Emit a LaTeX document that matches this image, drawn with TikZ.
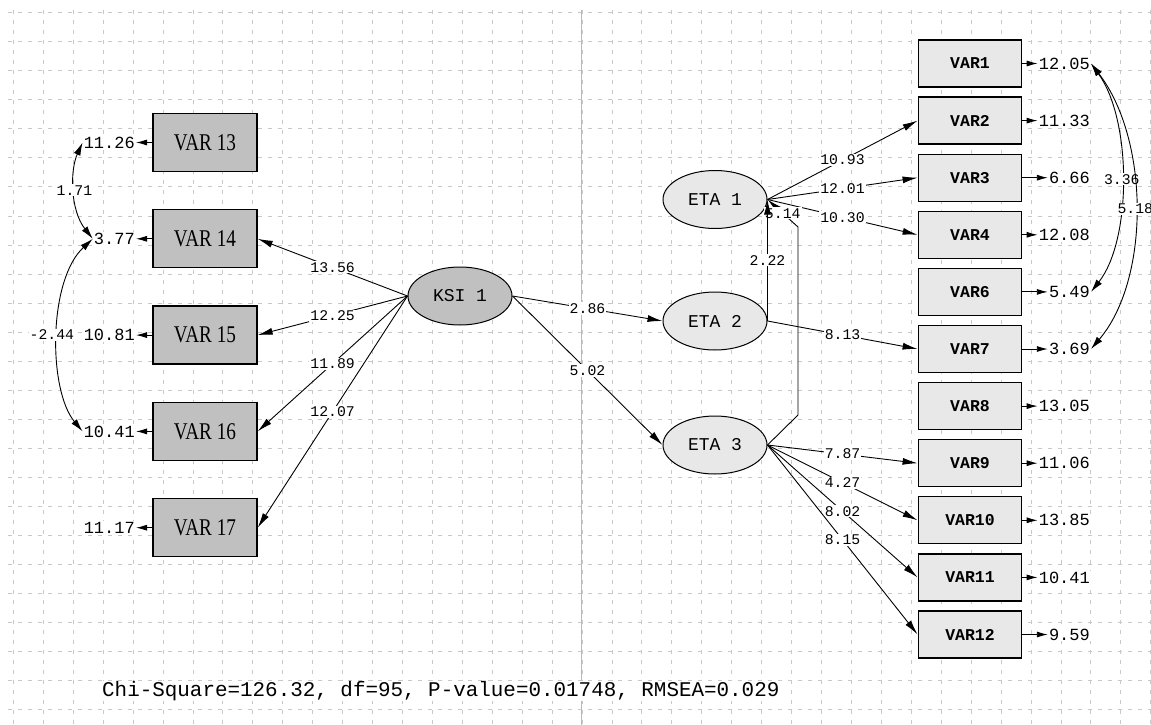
\documentclass[tikz,border=0pt]{standalone}
\usepackage{fontspec}
\newfontfamily\monof{Liberation Mono}
\newfontfamily\seriff{Liberation Serif}
\usetikzlibrary{shapes.geometric,arrows.meta,calc}
\definecolor{gridc}{RGB}{200,200,200}
\definecolor{axisc}{RGB}{185,185,185}
\definecolor{darkfill}{RGB}{192,192,192}
\definecolor{lightfill}{RGB}{232,232,232}
\newcommand{\lvtext}[1]{\scalebox{0.8}[1]{#1}}
\begin{document}
\begin{tikzpicture}[x=1pt,y=-1pt,
  gridline/.style={draw=gridc,line width=0.9pt,dash pattern=on 4pt off 6pt},
  axisline/.style={draw=axisc,line width=1.5pt},
  lvar/.style={draw,fill=darkfill,line width=1.3pt,minimum width=104pt,minimum height=58pt,inner sep=0pt,font=\seriff\fontsize{24}{26}\selectfont},
  rvar/.style={draw,fill=lightfill,line width=1.3pt,minimum width=103.5pt,minimum height=47pt,inner sep=0pt,font=\monof\bfseries\fontsize{16.5}{18}\selectfont},
  latent/.style={ellipse,draw,line width=1pt,minimum width=104pt,minimum height=58pt,inner sep=0pt,font=\monof\fontsize{18}{20}\selectfont},
  errlbl/.style={fill=white,inner sep=1pt,font=\monof\fontsize{17}{18}\selectfont},
  plbl/.style={fill=white,inner sep=1pt,font=\monof\fontsize{14.8}{16}\selectfont},
  pathline/.style={line width=0.9pt,-{Latex[length=15pt,width=7pt]}},
  errarr/.style={line width=0.9pt,-{Latex[length=11pt,width=6pt]}},
  cov/.style={line width=0.9pt,{Latex[length=13pt,width=7pt]}-{Latex[length=13pt,width=7pt]}}
]
\useasboundingbox (0,0) rectangle (1151,725);
\fill[white] (0,0) rectangle (1151,725);
% grid
\foreach \k in {0,...,38} \draw[gridline] ({13.4+29.93*\k},10) -- ({13.4+29.93*\k},725);
\foreach \k in {0,...,24} \draw[gridline] (8,{12.6+29.05*\k}) -- (1151,{12.6+29.05*\k});
\draw[axisline] (581.5,10) -- (581.5,725);

% left observed variables
\node[lvar] (v13) at (205,142.5) {\lvtext{VAR 13}};
\node[lvar] (v14) at (205,238.8) {\lvtext{VAR 14}};
\node[lvar] (v15) at (205,335.1) {\lvtext{VAR 15}};
\node[lvar] (v16) at (205,431.4) {\lvtext{VAR 16}};
\node[lvar] (v17) at (205,527.7) {\lvtext{VAR 17}};

% latent variables
\node[latent,fill=darkfill] (ksi) at (460,296) {KSI 1};
\node[latent,fill=lightfill] (eta1) at (715,199.5) {ETA 1};
\node[latent,fill=lightfill] (eta2) at (715,321) {ETA 2};
\node[latent,fill=lightfill] (eta3) at (715,445) {ETA 3};

% right observed variables
\node[rvar] (v1)  at (970,63.5)  {VAR1};
\node[rvar] (v2)  at (970,120.6) {VAR2};
\node[rvar] (v3)  at (970,177.7) {VAR3};
\node[rvar] (v4)  at (970,234.8) {VAR4};
\node[rvar] (v6)  at (970,291.9) {VAR6};
\node[rvar] (v7)  at (970,349.0) {VAR7};
\node[rvar] (v8)  at (970,406.1) {VAR8};
\node[rvar] (v9)  at (970,463.2) {VAR9};
\node[rvar] (v10) at (970,520.3) {VAR10};
\node[rvar] (v11) at (970,577.4) {VAR11};
\node[rvar] (v12) at (970,634.5) {VAR12};

% structural paths
\draw[pathline] (ksi.west) -- node[plbl]{13.56} (v14.east);
\draw[pathline] (ksi.west) -- node[plbl]{12.25} (v15.east);
\draw[pathline] (ksi.west) -- node[plbl]{11.89} (v16.east);
\draw[pathline] (ksi.west) -- node[plbl]{12.07} (v17.east);
\draw[pathline] (ksi.east) -- node[plbl]{2.86} (eta2.west);
\draw[pathline] (ksi.east) -- node[plbl]{5.02} (eta3.west);

\draw[pathline] (eta1.east) -- node[plbl]{10.93} (v2.west);
\draw[pathline] (eta1.east) -- node[plbl]{12.01} (v3.west);
\draw[pathline] (eta1.east) -- node[plbl]{10.30} (v4.west);
\draw[pathline] (eta2.east) -- node[plbl]{8.13} (v7.west);
\draw[pathline] (eta3.east) -- node[plbl]{7.87} (v9.west);
\draw[pathline] (eta3.east) -- node[plbl]{4.27} (v10.west);
\draw[pathline] (eta3.east) -- node[plbl]{8.02} (v11.west);
\draw[pathline] (eta3.east) -- node[plbl]{8.15} (v12.west);

\coordinate (b1) at (798,415);
\coordinate (b2) at (798,227);
\draw[pathline] (eta3.east) -- (b1) -- (b2) -- node[plbl]{5.14} (eta1.east);
\draw[pathline] (eta2.east) -- node[plbl]{2.22} (eta1.east);

% error variances left
\node[errlbl,anchor=east] (e13) at (136,142.5) {11.26};
\node[errlbl,anchor=east] (e14) at (136,238.8) {3.77};
\node[errlbl,anchor=east] (e15) at (136,335.1) {10.81};
\node[errlbl,anchor=east] (e16) at (136,431.4) {10.41};
\node[errlbl,anchor=east] (e17) at (136,527.7) {11.17};
\foreach \n in {13,14,15,16,17} \draw[errarr] (v\n) -- (e\n);

% error variances right
\node[errlbl,anchor=east] (e1)  at (1091,63.5)  {12.05};
\node[errlbl,anchor=east] (e2)  at (1091,120.6) {11.33};
\node[errlbl,anchor=east] (e3)  at (1091,177.7) {6.66};
\node[errlbl,anchor=east] (e4)  at (1091,234.8) {12.08};
\node[errlbl,anchor=east] (e6)  at (1091,291.9) {5.49};
\node[errlbl,anchor=east] (e7)  at (1091,349.0) {3.69};
\node[errlbl,anchor=east] (e8)  at (1091,406.1) {13.05};
\node[errlbl,anchor=east] (e9)  at (1091,463.2) {11.06};
\node[errlbl,anchor=east] (e10) at (1091,520.3) {13.85};
\node[errlbl,anchor=east] (e11) at (1091,577.4) {10.41};
\node[errlbl,anchor=east] (e12) at (1091,634.5) {9.59};
\foreach \n in {1,2,3,4,6,7,8,9,10,11,12} \draw[errarr] (v\n) -- (e\n);

% covariances
\draw[cov] (e13.west) .. controls (70,170) and (70,210) .. node[plbl]{1.71} (e14.west);
\draw[cov] (e14.west) .. controls (48,280) and (48,390) .. node[plbl,xshift=-6pt]{-2.44} (e16.west);
\draw[cov] (e1.east) .. controls (1132,120) and (1132,240) .. node[plbl]{3.36} (e6.east);
\draw[cov] (e1.east) .. controls (1150,140) and (1150,280) .. node[plbl]{5.18} (e7.east);

% fit statistics
\node[fill=white,inner sep=0pt,anchor=west,font=\monof\fontsize{20.9}{22}\selectfont] (fit) at (102,691) {Chi-Square=126.32, df=95, P-value=0.01748, RMSEA=0.029};
\end{tikzpicture}
\end{document}
